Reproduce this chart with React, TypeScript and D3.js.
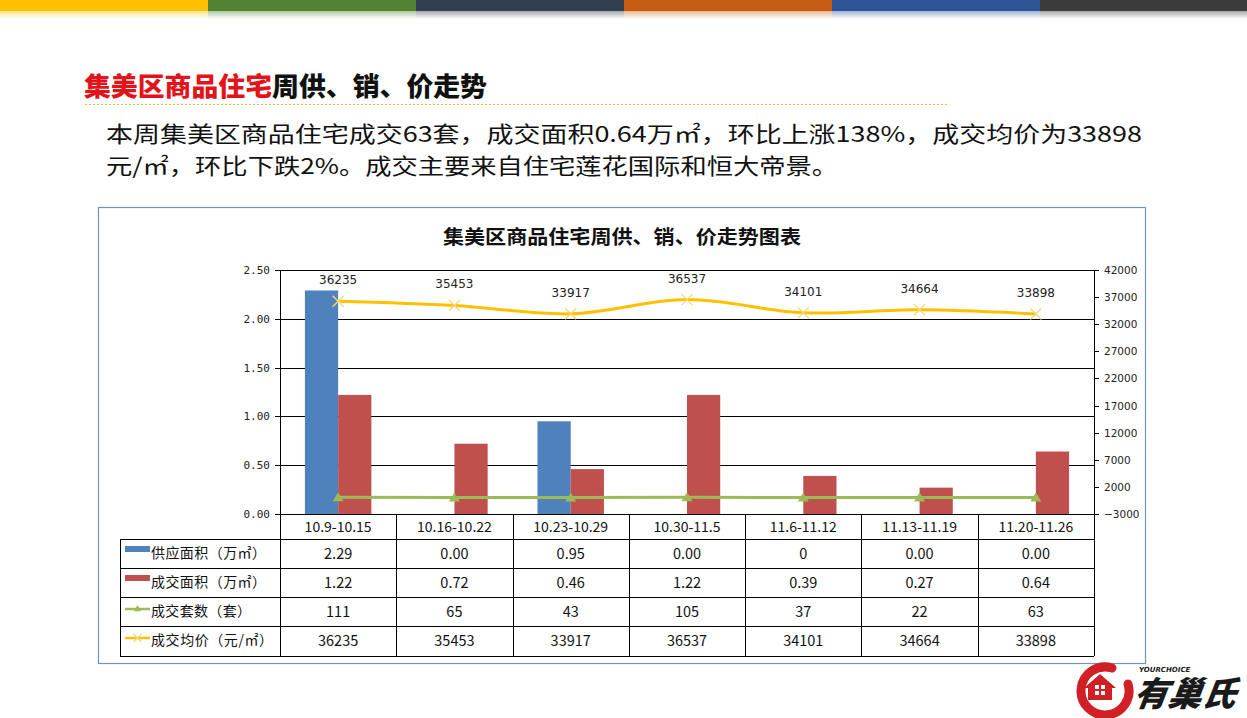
import React from "react";
import * as d3 from "d3";

const categories = ["10.9-10.15", "10.16-10.22", "10.23-10.29", "10.30-11.5", "11.6-11.12", "11.13-11.19", "11.20-11.26"];
const supplyArea = [2.29, 0, 0.95, 0, 0, 0, 0];
const supplyLabels = ["2.29", "0.00", "0.95", "0.00", "0", "0.00", "0.00"];
const dealArea = [1.22, 0.72, 0.46, 1.22, 0.39, 0.27, 0.64];
const dealLabels = ["1.22", "0.72", "0.46", "1.22", "0.39", "0.27", "0.64"];
const dealUnits = [111, 65, 43, 105, 37, 22, 63];
const avgPrice = [36235, 35453, 33917, 36537, 34101, 34664, 33898];
const leftTicks = [0, 0.5, 1, 1.5, 2, 2.5];
const rightTicks = [-3000, 2000, 7000, 12000, 17000, 22000, 27000, 32000, 37000, 42000];
const seriesNames = ["供应面积（万㎡）", "成交面积（万㎡）", "成交套数（套）", "成交均价（元/㎡）"];
const topBarColors = ["#ffc000", "#548235", "#333f50", "#c55a11", "#2f5597", "#3b3b3b"];

const BLUE = "#4f81bd";
const RED = "#c0504d";
const GREEN = "#9bbb59";
const YELLOW = "#ffc000";
const CJK = "'Noto Sans CJK SC', 'Noto Sans', sans-serif";

export default function App() {
  const left = 280, right = 1094, top = 270, bottom = 514;
  const x = d3.scaleBand<string>().domain(categories).range([left, right]).paddingInner(0).paddingOuter(0);
  const yL = d3.scaleLinear().domain([0, 2.5]).range([bottom, top]);
  const yR = d3.scaleLinear().domain([-3000, 42000]).range([bottom, top]);
  const bw = x.bandwidth() / 3.5;
  const cx = (c: string) => (x(c) as number) + x.bandwidth() / 2;

  const priceLine = d3.line<number>()
    .x((_, i) => cx(categories[i]))
    .y((d) => yR(d))
    .curve(d3.curveCatmullRom.alpha(0.5));
  const unitsLine = d3.line<number>()
    .x((_, i) => cx(categories[i]))
    .y((d) => yR(d));

  const rowTops = [539, 568, 597, 626];
  const rowBottom = 656;
  const tableLeft = 120;
  const rowValues = [supplyLabels, dealLabels, dealUnits.map(String), avgPrice.map(String)];
  const legendWidths = [115, 115, 100, 122];

  const tri = (px: number, py: number, s: number) =>
    `M${px},${py - s} L${px + s * 1.1},${py + s * 0.8} L${px - s * 1.1},${py + s * 0.8} Z`;
  const cross = (px: number, py: number, s: number) =>
    `M${px - s},${py - s} L${px + s},${py + s} M${px + s},${py - s} L${px - s},${py + s}`;

  return (
    <svg width={1247} height={718} style={{ position: "absolute", left: 0, top: 0, background: "#fff" }}>
      <defs>
        {topBarColors.map((c, i) => (
          <linearGradient key={i} id={`fade${i}`} x1="0" y1="0" x2="0" y2="1">
            <stop offset="0%" stopColor={c} stopOpacity={0.45} />
            <stop offset="100%" stopColor={c} stopOpacity={0} />
          </linearGradient>
        ))}
      </defs>
      {/* top color strip */}
      {topBarColors.map((c, i) => (
        <g key={i}>
          <rect x={i * 208} y={0} width={208} height={11} fill={c} />
          <rect x={i * 208} y={11} width={208} height={8} fill={`url(#fade${i})`} />
        </g>
      ))}

      {/* heading */}
      <text x={84} y={96} fontFamily={CJK} fontSize={26} fontWeight={900} textLength={403} lengthAdjust="spacingAndGlyphs">
        <tspan fill="#e3131b">集美区商品住宅</tspan>
        <tspan fill="#111">周供、销、价走势</tspan>
      </text>
      <line x1={85} x2={948} y1={104.5} y2={104.5} stroke="#e8c23a" strokeWidth={1} strokeDasharray="2,2" />

      {/* paragraph */}
      <text x={106} y={142} fontFamily={CJK} fontSize={22} fill="#111" textLength={1036} lengthAdjust="spacingAndGlyphs">
        本周集美区商品住宅成交63套，成交面积0.64万㎡，环比上涨138%，成交均价为33898
      </text>
      <text x={106} y={174} fontFamily={CJK} fontSize={22} fill="#111" textLength={732} lengthAdjust="spacingAndGlyphs">
        元/㎡，环比下跌2%。成交主要来自住宅莲花国际和恒大帝景。
      </text>

      {/* chart box */}
      <rect x={98.5} y={207.5} width={1047} height={456} fill="#fff" stroke="#7393b7" strokeWidth={1.2} />
      <text x={622} y={244} textAnchor="middle" fontFamily={CJK} fontSize={19} fontWeight={700} fill="#111" textLength={358} lengthAdjust="spacingAndGlyphs">
        集美区商品住宅周供、销、价走势图表
      </text>

      {/* gridlines */}
      {leftTicks.filter((t) => t > 0).map((t) => (
        <line key={t} x1={left} x2={right} y1={Math.round(yL(t)) + 0.5} y2={Math.round(yL(t)) + 0.5} stroke="#000" strokeWidth={1} />
      ))}
      {/* left axis */}
      <line x1={left + 0.5} x2={left + 0.5} y1={top} y2={bottom} stroke="#000" />
      {leftTicks.map((t) => (
        <g key={t}>
          <line x1={left - 5} x2={left} y1={Math.round(yL(t)) + 0.5} y2={Math.round(yL(t)) + 0.5} stroke="#000" />
          <text x={270} y={yL(t) + 4} textAnchor="end" fontFamily="'DejaVu Sans Mono', monospace" fontSize={11} fill="#222">
            {d3.format(".2f")(t)}
          </text>
        </g>
      ))}
      {/* right axis */}
      <line x1={right + 0.5} x2={right + 0.5} y1={top} y2={bottom} stroke="#000" />
      {rightTicks.map((t) => (
        <g key={t}>
          <line x1={right} x2={right + 5} y1={Math.round(yR(t)) + 0.5} y2={Math.round(yR(t)) + 0.5} stroke="#000" />
          <text x={1104} y={yR(t) + 4} textAnchor="start" fontFamily="'DejaVu Sans', sans-serif" fontSize={10.5} fill="#222">
            {t < 0 ? `−${Math.abs(t)}` : t}
          </text>
        </g>
      ))}

      {/* bars */}
      {categories.map((c, i) => (
        <g key={c}>
          {supplyArea[i] > 0 && (
            <rect x={cx(c) - bw} y={yL(supplyArea[i])} width={bw} height={bottom - yL(supplyArea[i])} fill={BLUE} />
          )}
          <rect x={cx(c)} y={yL(dealArea[i])} width={bw} height={bottom - yL(dealArea[i])} fill={RED} />
        </g>
      ))}

      {/* units line */}
      <path d={unitsLine(dealUnits) || ""} fill="none" stroke={GREEN} strokeWidth={3} />
      {dealUnits.map((v, i) => (
        <path key={i} d={tri(cx(categories[i]), yR(v), 5)} fill={GREEN} />
      ))}

      {/* price line */}
      <path d={priceLine(avgPrice) || ""} fill="none" stroke={YELLOW} strokeWidth={3} />
      {avgPrice.map((v, i) => (
        <g key={i}>
          <path d={cross(cx(categories[i]), yR(v), 5.5)} stroke="#f5d978" strokeWidth={1.3} fill="none" />
          <text x={cx(categories[i])} y={yR(v) - 17} textAnchor="middle" fontFamily="'DejaVu Sans', sans-serif" fontSize={12} fill="#222">
            {v}
          </text>
        </g>
      ))}

      {/* data table */}
      <g stroke="#000" strokeWidth={1} fill="none">
        <line x1={left} x2={right} y1={514.5} y2={514.5} />
        <line x1={tableLeft} x2={right} y1={rowTops[0] + 0.5} y2={rowTops[0] + 0.5} />
        {rowTops.slice(1).map((r) => (
          <line key={r} x1={tableLeft} x2={right} y1={r + 0.5} y2={r + 0.5} />
        ))}
        <line x1={tableLeft} x2={right} y1={rowBottom + 0.5} y2={rowBottom + 0.5} />
        <line x1={tableLeft + 0.5} x2={tableLeft + 0.5} y1={rowTops[0]} y2={rowBottom} />
        {categories.map((c) => (
          <line key={c} x1={Math.round(x(c) as number) + 0.5} x2={Math.round(x(c) as number) + 0.5} y1={514} y2={rowBottom} />
        ))}
        <line x1={right + 0.5} x2={right + 0.5} y1={514} y2={rowBottom} />
      </g>
      {categories.map((c) => (
        <text key={c} x={cx(c)} y={532} textAnchor="middle" fontFamily={CJK} fontSize={14} fill="#111">
          {c}
        </text>
      ))}
      {rowTops.map((r, ri) => (
        <g key={r}>
          {ri === 0 && <rect x={125} y={r + 7} width={25} height={6} fill={BLUE} />}
          {ri === 1 && <rect x={125} y={r + 7} width={25} height={6} fill={RED} />}
          {ri === 2 && (
            <g>
              <line x1={125} x2={150} y1={r + 12} y2={r + 12} stroke={GREEN} strokeWidth={2.5} />
              <path d={tri(137.5, r + 11.5, 3.5)} fill={GREEN} />
            </g>
          )}
          {ri === 3 && (
            <g>
              <line x1={125} x2={150} y1={r + 12} y2={r + 12} stroke={YELLOW} strokeWidth={2.5} />
              <path d={cross(137.5, r + 12, 4)} stroke="#f5d978" strokeWidth={1.2} />
            </g>
          )}
          <text x={151} y={r + 19} fontFamily={CJK} fontSize={14} fill="#111" textLength={legendWidths[ri]} lengthAdjust="spacing">
            {seriesNames[ri]}
          </text>
          {categories.map((c, i) => (
            <text key={c} x={cx(c)} y={r + 20} textAnchor="middle" fontFamily={CJK} fontSize={14.5} fill="#111">
              {rowValues[ri][i]}
            </text>
          ))}
        </g>
      ))}

      {/* logo */}
      <g>
        <path d="M1112,668 A24,24 0 1,0 1128,684" fill="none" stroke="#d11f26" strokeWidth={9} strokeLinecap="round" />
        <path d="M1100,674 L1116,688 L1112,688 L1112,700 L1088,700 L1088,688 L1084,688 Z" fill="#d11f26" />
        <rect x={1095} y={685} width={4} height={4} fill="#fff" />
        <rect x={1101} y={685} width={4} height={4} fill="#fff" />
        <rect x={1095} y={691} width={4} height={4} fill="#fff" />
        <rect x={1101} y={691} width={4} height={4} fill="#fff" />
        <text x={1139} y={672} fontFamily="'DejaVu Sans', sans-serif" fontSize={7} fontStyle="italic" fontWeight={700} fill="#222">
          YOURCHOICE
        </text>
        <text x={1134} y={706} fontFamily={CJK} fontSize={34} fontWeight={900} fontStyle="italic" fill="#1a1a1a" transform="skewX(-8) translate(98,0)">
          有巢氏
        </text>
      </g>
    </svg>
  );
}
